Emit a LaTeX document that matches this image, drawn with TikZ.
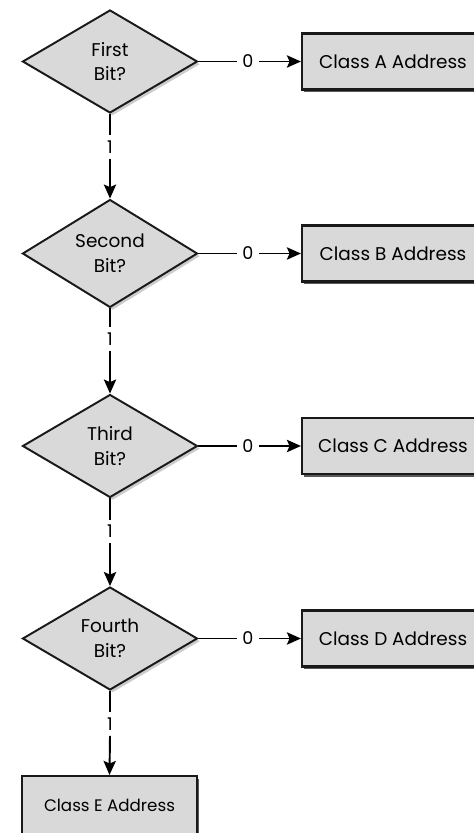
\documentclass[tikz,border=0pt]{standalone}
\usepackage{fontspec}
\setmainfont{Poppins}
\usetikzlibrary{shapes.geometric,arrows.meta,shadows}

\tikzset{
  bitnode/.style={diamond, draw=black!90, line width=1.1pt, fill=black!15,
    minimum width=3.5cm, minimum height=2.06cm, inner sep=0pt, align=center,
    font=\fontsize{10.5}{14}\selectfont,
    drop shadow={shadow xshift=1.5pt, shadow yshift=-1.5pt, fill=black!25, opacity=0.8}},
  classnode/.style={rectangle, draw=black!90, line width=1.2pt, fill=black!15,
    minimum width=3.64cm, minimum height=1.12cm, font=\fontsize{10.5}{12}\selectfont,
    drop shadow={shadow xshift=1.3pt, shadow yshift=-1.7pt, fill=black!65, opacity=1}},
  bitlabel/.style={inner sep=3pt, font=\fontsize{10}{10}\selectfont},
  flow/.style={-{Stealth[length=8pt,width=7pt,inset=1.5pt]}, line width=1.1pt},
}

\begin{document}
\begin{tikzpicture}[x=0.02cm, y=0.02cm]
  \useasboundingbox (0,0) rectangle (474,833);

  % Fragen nach den einzelnen Bits
  \foreach \i/\ord/\cls/\y in {1/First/A/771.5, 2/Second/B/579.5, 3/Third/C/387, 4/Fourth/D/194.5} {
    \node[bitnode] (d\i) at (110,\y) {\ord\\Bit?};
    \node[classnode] (c\i) at (393,\y) {Class \cls\ Address};
    \node[bitlabel] (z\i) at (248,\y) {0};
    \node[bitlabel] (o\i) at (110,\y-85.5) {1};
    \draw[line width=1.1pt] (d\i.east) -- (z\i.west);
    \draw[flow] (z\i.east) -- (c\i.west);
  }

  % letzte Klasse
  \node[classnode, minimum width=3.5cm, minimum height=1.16cm,
    font=\fontsize{9.5}{11}\selectfont] (cE) at (109.5,28) {Class E Address};

  % Pfeile nach unten
  \foreach \i/\nxt in {1/d2, 2/d3, 3/d4, 4/cE} {
    \draw[line width=1.1pt] (d\i.south) -- (o\i.north);
    \draw[flow] (o\i.south) -- (\nxt.north);
  }
\end{tikzpicture}
\end{document}
